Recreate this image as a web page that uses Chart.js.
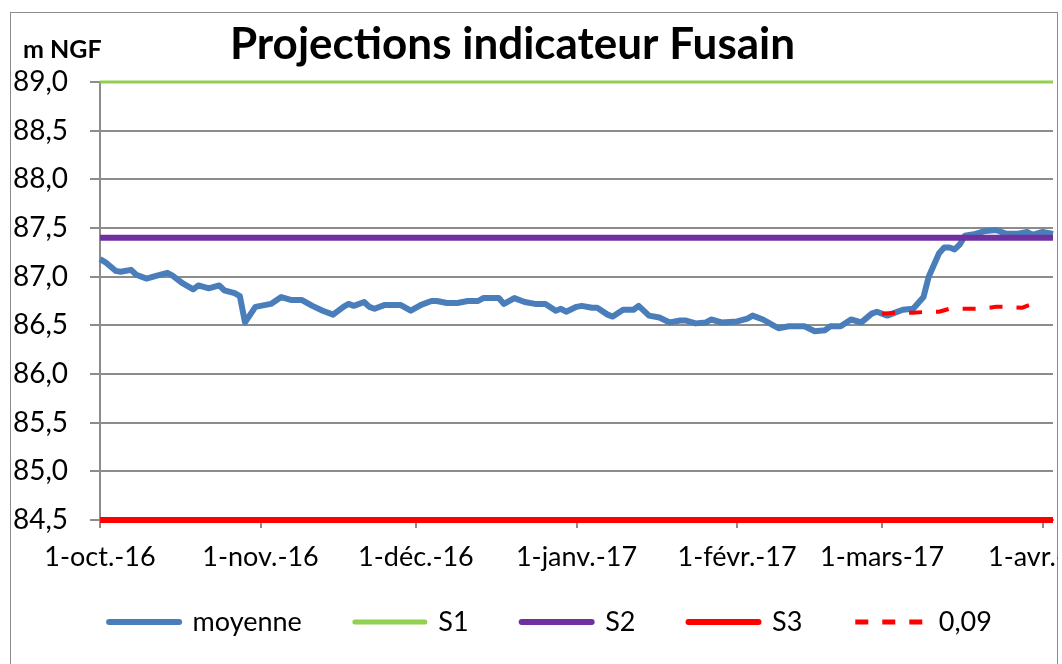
<!DOCTYPE html>
<html>
<head>
<meta charset="utf-8">
<script src="https://cdn.jsdelivr.net/npm/chart.js@4"></script>
<style>
  html, body { margin: 0; padding: 0; background: #fff; overflow: hidden; }
  #page { position: relative; width: 1062px; height: 664px; overflow: hidden; }
  #cadre { position: absolute; left: 10px; top: 12px; width: 1046px; height: 700px; border: 1px solid #8c8c8c; }
  #graph { position: absolute; left: 0; top: 0; }
</style>
</head>
<body>
<div id="page">
  <div id="cadre"></div>
  <canvas id="graph" width="1058" height="664"></canvas>
</div>
<script>
// jours comptés depuis le 1-oct.-16
const jours = [0, 1, 3, 4, 6, 7, 9, 11, 13, 14, 16, 18, 19, 21, 23, 24, 26, 27, 28, 30,
  32, 33, 35, 37, 39, 41, 43, 45, 47, 48, 49, 51, 52, 53, 55, 58, 60, 62, 64, 65,
  67, 69, 71, 73, 74, 77, 78, 80, 82, 84, 86, 88, 89, 90, 92, 93, 95, 96, 98, 99,
  101, 103, 104, 106, 108, 110, 112, 113, 115, 117, 118, 120, 123, 125, 126, 128, 130, 131, 133, 136,
  138, 140, 141, 143, 145, 147, 149, 150, 152, 153, 155, 157, 159, 160, 162, 163, 164, 165, 166, 167,
  169, 171, 173, 175, 177, 179, 180, 182, 184];
const moyenne = [87.18, 87.15, 87.06, 87.05, 87.07, 87.02, 86.98, 87.01, 87.04, 87.01, 86.93, 86.87, 86.91, 86.88, 86.91, 86.86, 86.83, 86.80, 86.53, 86.69,
  86.71, 86.72, 86.79, 86.76, 86.76, 86.70, 86.65, 86.61, 86.69, 86.72, 86.70, 86.74, 86.69, 86.67, 86.71, 86.71, 86.65, 86.71, 86.75, 86.75,
  86.73, 86.73, 86.75, 86.75, 86.78, 86.78, 86.72, 86.78, 86.74, 86.72, 86.72, 86.65, 86.67, 86.64, 86.69, 86.70, 86.68, 86.68, 86.61, 86.59,
  86.66, 86.66, 86.70, 86.60, 86.58, 86.53, 86.55, 86.55, 86.52, 86.53, 86.56, 86.53, 86.54, 86.57, 86.60, 86.56, 86.50, 86.47, 86.49, 86.49,
  86.44, 86.45, 86.49, 86.49, 86.56, 86.53, 86.62, 86.64, 86.60, 86.62, 86.66, 86.67, 86.79, 87.00, 87.24, 87.30, 87.30, 87.28, 87.33, 87.42,
  87.44, 87.47, 87.48, 87.44, 87.44, 87.46, 87.43, 87.46, 87.44];

const joursProjection = [151, 154, 157, 160, 162, 164, 168, 170, 173, 175, 178, 180];
const projection = [86.62, 86.63, 86.63, 86.64, 86.64, 86.67, 86.67, 86.67, 86.69, 86.69, 86.68, 86.72];

const seuilS1 = 89.0;
const seuilS2 = 87.4;
const seuilS3 = 84.5;

const joursMois = [0, 31, 61, 92, 123, 151, 182];
const labelsMois = ["1-oct.-16", "1-nov.-16", "1-déc.-16", "1-janv.-17", "1-févr.-17", "1-mars-17", "1-avr.-17"];
const dernierJour = 184;

const police = "Lato, 'Liberation Sans', sans-serif";

const points = (xs, ys) => xs.map((x, i) => ({ x: x, y: ys[i] }));
const seuil = (v) => [{ x: 0, y: v }, { x: dernierJour, y: v }];

// titre de l'axe vertical, en haut à gauche
const uniteAxe = {
  id: "uniteAxe",
  afterDraw(chart) {
    const ctx = chart.ctx;
    ctx.save();
    ctx.font = "bold 25px " + police;
    ctx.fillStyle = "#000";
    ctx.textBaseline = "middle";
    ctx.textAlign = "left";
    ctx.fillText("m NGF", chart.chartArea.left - 77, 50);
    ctx.restore();
  }
};

// légende et titre un peu décalés comme dans Excel
const decalages = {
  id: "decalages",
  afterLayout(chart) {
    const l = chart.legend;
    l.left += 24; l.right += 24;
    l.top -= 18.5; l.bottom -= 18.5;
    const t = chart.titleBlock;
    t.left -= 14; t.right -= 14;
  }
};

new Chart(document.getElementById("graph"), {
  type: "line",
  data: {
    datasets: [
      { label: "moyenne", data: points(jours, moyenne), borderColor: "#4a7ebb", borderWidth: 6, order: 5 },
      { label: "S1", data: seuil(seuilS1), borderColor: "#92d050", borderWidth: 3, order: 4 },
      { label: "S2", data: seuil(seuilS2), borderColor: "#7030a0", borderWidth: 6, order: 3 },
      { label: "S3", data: seuil(seuilS3), borderColor: "#ff0000", borderWidth: 6, order: 2 },
      { label: "0,09", data: points(joursProjection, projection), borderColor: "#ff0000", borderWidth: 4, borderDash: [13, 14], order: 1 }
    ]
  },
  options: {
    responsive: false,
    animation: false,
    clip: 4,
    elements: {
      point: { radius: 0 },
      line: { tension: 0, fill: false, borderCapStyle: "butt", borderJoinStyle: "round" }
    },
    layout: { padding: { left: 0, right: 5, top: 0, bottom: 0 } },
    scales: {
      x: {
        type: "linear",
        min: 0,
        max: dernierJour,
        afterBuildTicks: (scale) => { scale.ticks = joursMois.map(v => ({ value: v })); },
        afterFit: (scale) => { scale.height = 54; scale.paddingLeft = 0; scale.paddingRight = 0; },
        ticks: {
          autoSkip: false,
          maxRotation: 0,
          padding: 13,
          color: "#000",
          font: { family: police, size: 27 },
          callback: (v) => labelsMois[joursMois.indexOf(v)]
        },
        grid: { drawOnChartArea: false, tickLength: 8, color: "#8c8c8c", lineWidth: 2 },
        border: { color: "#8c8c8c", width: 2 }
      },
      y: {
        min: 84.5,
        max: 89,
        afterFit: (scale) => { scale.width = 100; },
        ticks: {
          stepSize: 0.5,
          padding: 22,
          color: "#000",
          font: { family: police, size: 28 },
          callback: (v) => v.toFixed(1).replace(".", ",")
        },
        grid: { color: "#8c8c8c", lineWidth: 2, tickLength: 10 },
        border: { color: "#8c8c8c", width: 2 }
      }
    },
    plugins: {
      title: {
        display: true,
        text: "Projections indicateur Fusain",
        color: "#000",
        font: { family: police, size: 44, weight: "bold" },
        padding: { top: 18.6, bottom: 10.6 }
      },
      legend: {
        position: "bottom",
        labels: {
          usePointStyle: true,
          pointStyle: "line",
          pointStyleWidth: 70,
          padding: 53,
          color: "#000",
          font: { family: police, size: 27 },
          sort: (a, b) => a.datasetIndex - b.datasetIndex,
          generateLabels: (chart) => Chart.defaults.plugins.legend.labels.generateLabels(chart).map((item) => {
            const ds = chart.data.datasets[item.datasetIndex];
            item.lineDash = ds.borderDash || [];
            item.lineWidth = Math.max(ds.borderWidth, 5);
            item.lineCap = ds.borderDash ? "butt" : "round";
            return item;
          })
        }
      },
      tooltip: { enabled: false }
    }
  },
  plugins: [uniteAxe, decalages]
});
</script>
</body>
</html>
